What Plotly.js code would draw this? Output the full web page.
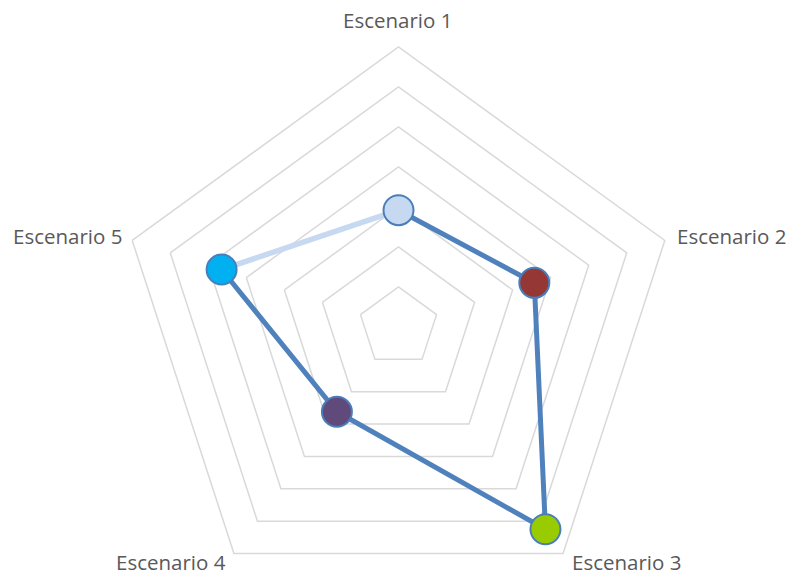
<!DOCTYPE html>
<html>
<head>
<meta charset="utf-8">
<script src="https://cdn.plot.ly/plotly-3.0.1.min.js"></script>
<style>
html, body { margin: 0; padding: 0; overflow: hidden; background: #fff; }
#chart { width: 791px; height: 640px; }
</style>
</head>
<body>
<div id="chart"></div>
<script>
// Data
var categories = ["Escenario 1", "Escenario 2", "Escenario 3", "Escenario 4", "Escenario 5"];
var values = [2.92, 3.57, 6.25, 2.62, 4.65];
var markerColors = ["#C6D9F0", "#953735", "#99CC00", "#604A7B", "#00B0F0"];
var radialMax = 7;

var n = categories.length;

// figure geometry
var W = 791, H = 640;
var M = { l: 6, r: 0, t: 47, b: 33 };
var plotW = W - M.l - M.r, plotH = H - M.t - M.b;
function paperX(px) { return (px - M.l) / plotW; }
function paperY(py) { return 1 - (py - M.t) / plotH; }

// category label placement (pixel anchor, alignment) around the outer pentagon
var labelPlacement = [
  { x: 397, y: 20, xa: "center" },
  { x: 676, y: 236, xa: "left" },
  { x: 571, y: 562, xa: "left" },
  { x: 227, y: 562, xa: "right" },
  { x: 123, y: 236, xa: "right" }
];

var annotations = categories.map(function (c, i) {
  var p = labelPlacement[i];
  return {
    text: c,
    xref: "paper", yref: "paper",
    x: paperX(p.x), y: paperY(p.y),
    xanchor: p.xa, yanchor: "middle",
    showarrow: false,
    borderpad: 0,
    font: { family: "Open Sans, sans-serif", size: 20.5, color: "#595959" }
  };
});

// closing segment (last -> first) drawn in light blue
var closeTrace = {
  type: "scatterpolar",
  mode: "lines",
  r: [values[n - 1], values[0]],
  theta: [categories[n - 1], categories[0]],
  line: { color: "#C6D9F0", width: 5.5 },
  hoverinfo: "skip",
  showlegend: false
};

var mainLine = {
  type: "scatterpolar",
  mode: "lines",
  r: values,
  theta: categories,
  line: { color: "#4F81BD", width: 5 },
  hoverinfo: "skip",
  showlegend: false
};

var markers = {
  type: "scatterpolar",
  mode: "markers",
  r: values,
  theta: categories,
  marker: {
    size: 30,
    color: markerColors,
    line: { color: "#4A7EBB", width: 2 }
  },
  showlegend: false
};

var layout = {
  width: W,
  height: H,
  margin: M,
  paper_bgcolor: "#ffffff",
  plot_bgcolor: "#ffffff",
  showlegend: false,
  font: { family: "Open Sans, sans-serif", color: "#595959", size: 20 },
  annotations: annotations,
  polar: {
    bgcolor: "#ffffff",
    gridshape: "linear",
    radialaxis: {
      range: [0, radialMax],
      dtick: 1,
      tick0: 0,
      showticklabels: false,
      ticks: "",
      showline: false,
      gridcolor: "#D9D9D9",
      gridwidth: 1.5
    },
    angularaxis: {
      type: "category",
      categoryorder: "array",
      categoryarray: categories,
      direction: "clockwise",
      rotation: 90,
      showgrid: false,
      showticklabels: false,
      ticks: "",
      showline: true,
      linecolor: "#D9D9D9",
      linewidth: 1.5
    }
  }
};

Plotly.newPlot("chart", [closeTrace, mainLine, markers], layout, { displayModeBar: false, staticPlot: true });
</script>
</body>
</html>
